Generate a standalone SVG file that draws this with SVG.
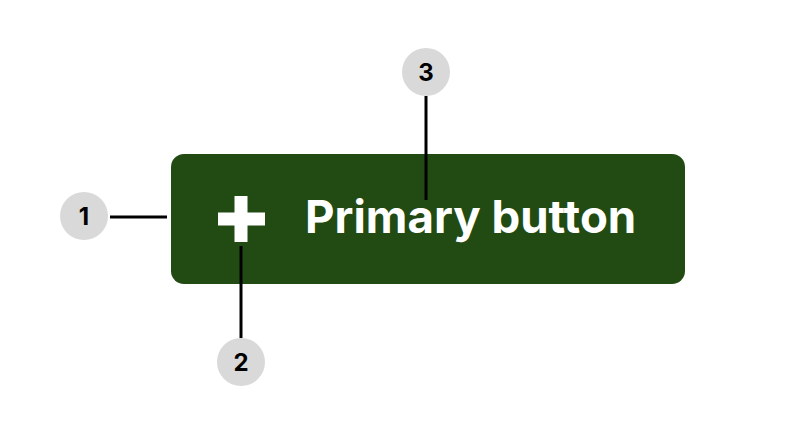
<svg xmlns="http://www.w3.org/2000/svg" width="794" height="440" viewBox="0 0 794 440">
<style>
.badge{fill:#d9d9d9}
.num{font-family:Inter,"Liberation Sans",sans-serif;font-weight:700;font-size:24px;fill:#000;text-anchor:middle}
.lead{stroke:#000;stroke-width:3;fill:none}
</style>
<rect width="794" height="440" fill="#fff"/>
<g id="button">
<rect x="171" y="154" width="514" height="130" rx="13" fill="#214b12"/>
<path d="M234.5 196h13v16.5h17.5v13h-17.5v16.5h-13v-16.5h-16.5v-13h16.5z" fill="#fff"/>
<text x="305" y="233" font-family="Inter,'Liberation Sans',sans-serif" font-weight="700" font-size="45.6" fill="#fff">Primary button</text>
</g>
<g id="connectors">
<line class="lead" x1="110" y1="217" x2="167" y2="217"/>
<line class="lead" x1="241" y1="246" x2="241" y2="338"/>
<line class="lead" x1="426" y1="96" x2="426" y2="200"/>
</g>
<g id="badge1"><circle class="badge" cx="84" cy="216" r="24"/><text class="num" x="84" y="224.5">1</text></g>
<g id="badge2"><circle class="badge" cx="241" cy="362" r="24"/><text class="num" x="241" y="370.5">2</text></g>
<g id="badge3"><circle class="badge" cx="426" cy="72" r="24"/><text class="num" x="426" y="80.5">3</text></g>
</svg>
